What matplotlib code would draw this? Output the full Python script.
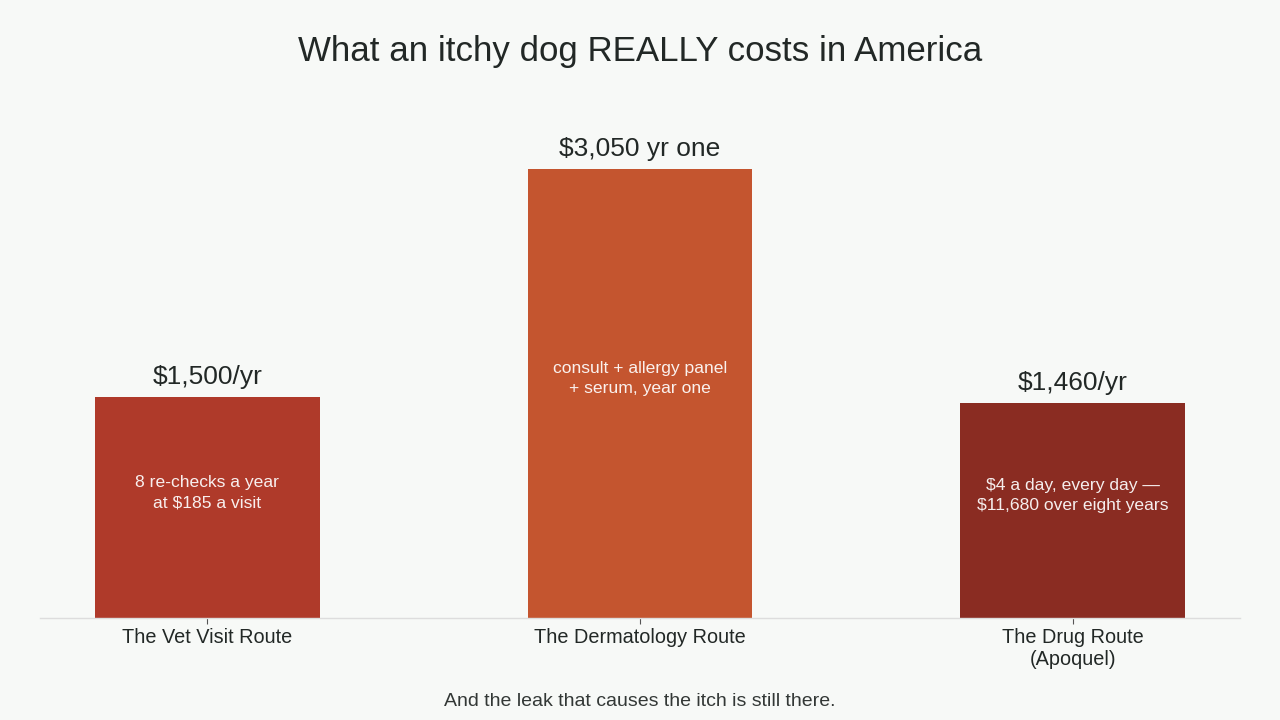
import matplotlib.pyplot as plt

# data
routes = ['The Vet Visit Route', 'The Dermatology Route', 'The Drug Route\n(Apoquel)']
costs = [1500, 3050, 1460]
value_labels = ['$1,500/yr', '$3,050 yr one', '$1,460/yr']
notes = ['8 re-checks a year\nat $185 a visit',
         'consult + allergy panel\n+ serum, year one',
         '$4 a day, every day \u2014\n$11,680 over eight years']
colors = ['#AF3A2A', '#C4552F', '#8A2C22']

plt.rcParams['font.family'] = ['Liberation Sans', 'DejaVu Sans']
bg = '#F7F9F7'
dark = '#222826'

fig = plt.figure(figsize=(12.8, 7.2), dpi=100, facecolor=bg)
ax = fig.add_axes([40 / 1280, 102 / 720, 1200 / 1280, 498 / 720])
ax.set_facecolor(bg)

x = range(len(routes))
bars = ax.bar(x, costs, width=0.52, color=colors)

ax.set_xlim(-0.387, 2.387)
ax.set_ylim(0, 3380)

for i, b in enumerate(bars):
    h = b.get_height()
    ax.annotate(value_labels[i], (b.get_x() + b.get_width() / 2, h),
                xytext=(0, 5.5), textcoords='offset points',
                ha='center', va='bottom', fontsize=19, color=dark)
    ax.annotate(notes[i], (b.get_x() + b.get_width() / 2, h / 2),
                xytext=(0, 10.5), textcoords='offset points',
                ha='center', va='center', fontsize=12.6, color='white',
                alpha=0.92, linespacing=1.42)

ax.set_xticks(list(x))
ax.set_xticklabels(routes, fontsize=14.3, color=dark, linespacing=1.18)
ax.tick_params(axis='x', length=4, width=0.8, color='#555555', pad=3.5)
ax.set_yticks([])
for s in ['top', 'right', 'left']:
    ax.spines[s].set_visible(False)
ax.spines['bottom'].set_color('#DDDDDD')
ax.spines['bottom'].set_linewidth(1)

fig.text(0.5, 1 - 51 / 720, 'What an itchy dog REALLY costs in America',
         ha='center', va='center', fontsize=25.1, color=dark)
fig.text(0.5, 1 - 701 / 720, 'And the leak that causes the itch is still there.',
         ha='center', va='center', fontsize=14, color='#333836')

fig.savefig('out.png', dpi=100, facecolor=bg)
